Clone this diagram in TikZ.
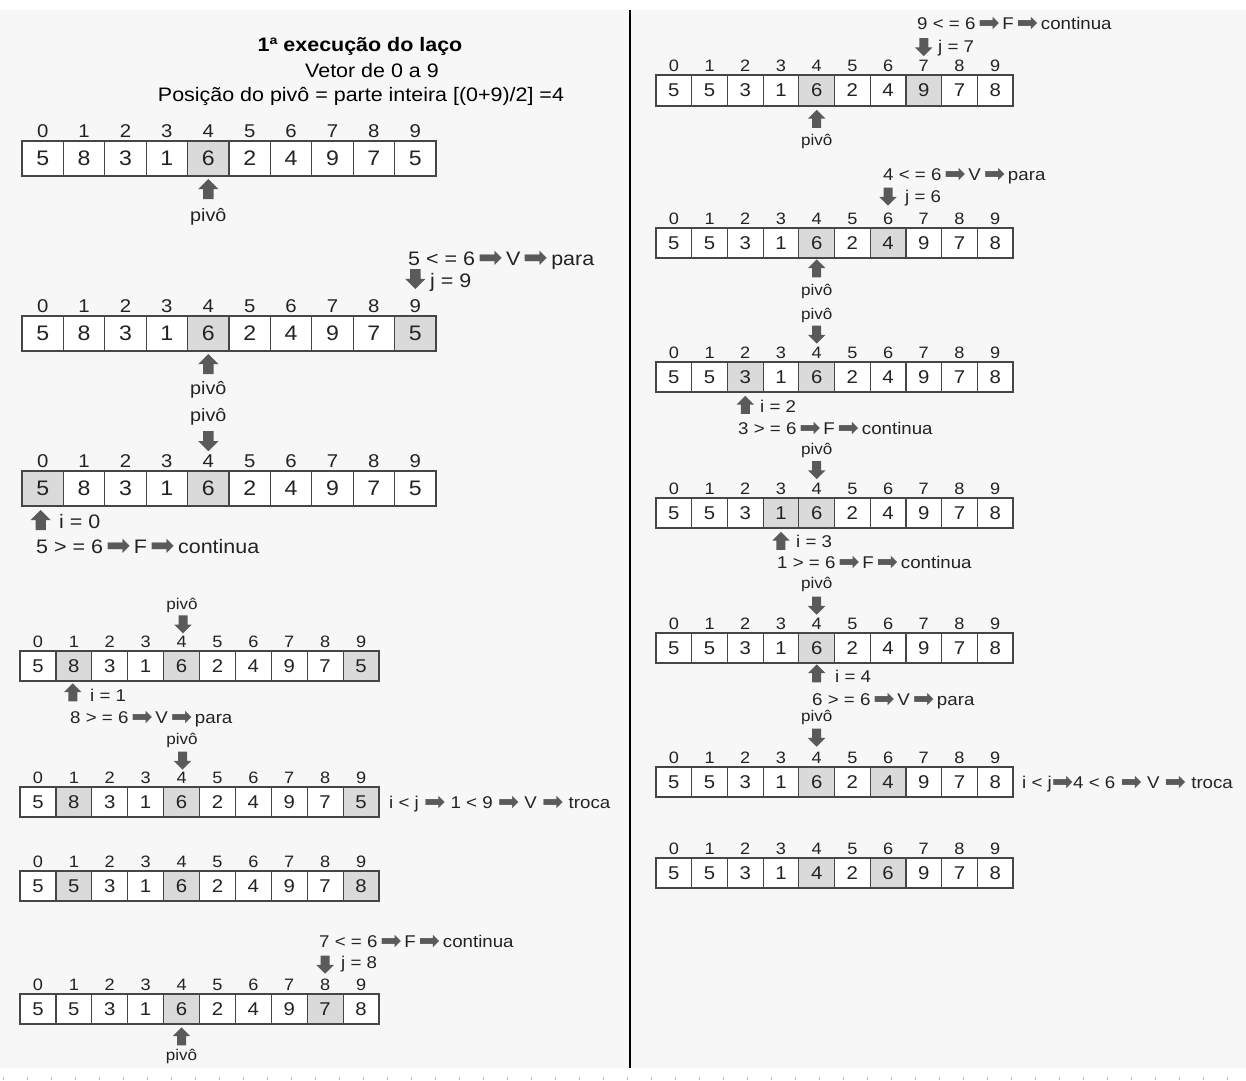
\documentclass[tikz,border=0pt]{standalone}
\usepackage{graphicx}
\usepackage{fontspec}
\setmainfont{Liberation Sans}[FakeStretch=1.1]
\newfontfamily\dejavu{DejaVu Sans}
\usetikzlibrary{calc,shapes.arrows}

\definecolor{fundo}{RGB}{247,247,247}
\definecolor{sombra}{RGB}{218,218,218}
\definecolor{borda}{RGB}{70,70,70}
\definecolor{setacor}{RGB}{90,90,90}
\definecolor{texto}{RGB}{35,35,35}

% seta grossa dentro do texto
\newcommand{\sa}{{\color{setacor}\raisebox{-0.12em}{\scalebox{1.5}{\dejavu ➡}}}}

% vetor: nome, x, y (topo), largura da celula, altura, valores, celulas cinza, g/p
\newcommand{\vetor}[8]{%
  \fill[white] (#2,#3) rectangle ++({10*#4},#5);
  \foreach \s in {#7} \fill[sombra] ({#2+\s*#4},#3) rectangle ++(#4,#5);
  \foreach \v [count=\k from 0] in {#6} {
    \node[cel#8, minimum width=#4pt, minimum height=#5pt] (#1-\k) at ({#2+(\k+0.5)*#4},{#3+#5/2}) {\v};
    \node[idx#8] (#1-i\k) at (#1-\k.north) {\k};
  }%
}

\begin{document}
\begin{tikzpicture}[x=1pt,y=1pt,yscale=-1,
    cel/.style={draw=borda, line width=1.2pt, inner sep=0pt, text=texto},
    celg/.style={cel, font=\fontsize{21}{21}\selectfont},
    celp/.style={cel, font=\fontsize{18.5}{18.5}\selectfont},
    idx/.style={anchor=south, inner sep=0pt, inner ysep=3pt, text=texto},
    idxg/.style={idx, font=\fontsize{18.5}{18.5}\selectfont},
    idxp/.style={idx, font=\fontsize{16.5}{16.5}\selectfont},
    txt/.style={anchor=base west, inner sep=0pt, text=texto},
    txtg/.style={txt, font=\fontsize{19.5}{19.5}\selectfont},
    txtp/.style={txt, font=\fontsize{17}{17}\selectfont},
    piv/.style={anchor=base, inner sep=0pt, text=texto},
    pivg/.style={piv, font=\fontsize{18}{18}\selectfont},
    pivp/.style={piv, font=\fontsize{15.5}{15.5}\selectfont},
    seta/.style={single arrow, fill=setacor, inner xsep=0pt, minimum width=0pt, single arrow head indent=0pt},
    setag/.style={seta, inner ysep=5pt, single arrow head extend=5pt, minimum height=20pt},
    setap/.style={seta, inner ysep=4.3pt, single arrow head extend=4.2pt, minimum height=18pt},
    cima/.style={rotate=90},
    baixo/.style={rotate=-90}]
    \useasboundingbox (0,0) rectangle (1246,1080);
    \fill[white] (0,0) rectangle (1246,1080);
    \fill[fundo] (0,10) rectangle (1246,1068);

    %Divisoria
    \draw[line width=1.6pt] (630,10) -- (630,1068);
    \draw[gray!50, line width=3pt, dash pattern=on 1.2pt off 22.8pt] (3,1078) -- (1246,1078);

    %Titulo
    \node[anchor=base, inner sep=0pt, font=\bfseries\fontsize{19.5}{19.5}\selectfont] (titulo) at (360,51) {1ª execução do laço};
    \node[anchor=base, inner sep=0pt, font=\fontsize{19.5}{19.5}\selectfont] (vetor) at (372,77) {Vetor de 0 a 9};
    \node[anchor=base, inner sep=0pt, font=\fontsize{19.5}{19.5}\selectfont] (posicao) at (361,101) {Posição do pivô = parte inteira [(0+9)/2] =4};

    %Coluna esquerda, vetores grandes
    \vetor{a1}{22}{141}{41.4}{35}{5,8,3,1,6,2,4,9,7,5}{4}{g}
    \node[setag, cima] (a1-up) at ($(a1-4.south)+(0,15)$) {};
    \node[pivg] (a1-piv) at (a1-4 |- 0,221) {pivô};

    \vetor{a2}{22}{316}{41.4}{35}{5,8,3,1,6,2,4,9,7,5}{4,9}{g}
    \node[txtg] (a2-cond) at (408,265) {5 < = 6\,\sa\,V\,\sa\,para};
    \node[setag, baixo] (a2-dn) at ($(a2-9.north)+(0,-39)$) {};
    \node[txtg] (a2-j) at (430,287) {j = 9};
    \node[setag, cima] (a2-up) at ($(a2-4.south)+(0,15)$) {};
    \node[pivg] (a2-piv) at (a2-4 |- 0,394) {pivô};

    \node[pivg] (a3-piv) at (a2-4 |- 0,421) {pivô};
    \node[setag, baixo] (a3-dn) at ($(a2-4.south)+(0,87)$) {};
    \vetor{a3}{22}{471}{41.4}{35}{5,8,3,1,6,2,4,9,7,5}{0,4}{g}
    \node[setag, cima] (a3-up) at ($(a3-0.south)+(-2,16)$) {};
    \node[txtg] (a3-i) at (59,528) {i = 0};
    \node[txtg] (a3-cond) at (36,553) {5 > = 6\,\sa\,F\,\sa\,continua};

    %Coluna esquerda, vetores pequenos
    \node[pivp] (a4-piv) at (182,609) {pivô};
    \node[setap, baixo] (a4-dn) at (183,622) {};
    \vetor{a4}{20}{651}{35.9}{30}{5,8,3,1,6,2,4,9,7,5}{1,4,9}{p}
    \node[setap, cima] (a4-up) at ($(a4-1.south)+(-1,13)$) {};
    \node[txtp] (a4-i) at (90,701) {i = 1};
    \node[txtp] (a4-cond) at (70,723) {8 > = 6\,\sa\,V\,\sa\,para};

    \node[pivp] (a5-piv) at (182,744) {pivô};
    \vetor{a5}{20}{787}{35.9}{30}{5,8,3,1,6,2,4,9,7,5}{1,4,9}{p}
    \node[setap, baixo] (a5-dn) at ($(a5-4.north)+(1,-28)$) {};
    \node[txtp] (a5-troca) at (389,808) {i < j \sa\ 1 < 9 \sa\ V \sa\ troca};

    \vetor{a6}{20}{871}{35.9}{30}{5,5,3,1,6,2,4,9,7,8}{1,4,9}{p}

    \vetor{a7}{20}{994}{35.9}{30}{5,5,3,1,6,2,4,9,7,8}{4,8}{p}
    \node[txtp] (a7-cond) at (319,947) {7 < = 6\,\sa\,F\,\sa\,continua};
    \node[setap, baixo] (a7-dn) at ($(a7-8.north)+(0,-31)$) {};
    \node[txtp] (a7-j) at (341,968) {j = 8};
    \node[setap, cima] (a7-up) at ($(a7-4.south)+(0,14)$) {};
    \node[pivp] (a7-piv) at (a7-4 |- 0,1060) {pivô};

    %Coluna direita
    \vetor{r1}{656}{75}{35.7}{31}{5,5,3,1,6,2,4,9,7,8}{4,7}{p}
    \node[txtp] (r1-cond) at (917,29) {9 < = 6\,\sa\,F\,\sa\,continua};
    \node[setap, baixo] (r1-dn) at ($(r1-7.north)+(0,-29.5)$) {};
    \node[txtp] (r1-j) at (938,52) {j = 7};
    \node[setap, cima] (r1-up) at ($(r1-4.south)+(0,14.5)$) {};
    \node[pivp] (r1-piv) at (r1-4 |- 0,145) {pivô};

    \vetor{r2}{656}{228}{35.7}{30}{5,5,3,1,6,2,4,9,7,8}{4,6}{p}
    \node[txtp] (r2-cond) at (883,180) {4 < = 6\,\sa\,V\,\sa\,para};
    \node[setap, baixo] (r2-dn) at ($(r2-6.north)+(0,-33)$) {};
    \node[txtp] (r2-j) at (905,202) {j = 6};
    \node[setap, cima] (r2-up) at ($(r2-4.south)+(0,12)$) {};
    \node[pivp] (r2-piv) at (r2-4 |- 0,295) {pivô};

    \node[pivp] (r3-piv) at (r2-4 |- 0,319) {pivô};
    \vetor{r3}{656}{362}{35.7}{30}{5,5,3,1,6,2,4,9,7,8}{2,4}{p}
    \node[setap, baixo] (r3-dn) at ($(r3-4.north)+(0,-29)$) {};
    \node[setap, cima] (r3-up) at ($(r3-2.south)+(0,14.5)$) {};
    \node[txtp] (r3-i) at (760,412) {i = 2};
    \node[txtp] (r3-cond) at (738,434) {3 > = 6\,\sa\,F\,\sa\,continua};

    \node[pivp] (r4-piv) at (r3-4 |- 0,454) {pivô};
    \vetor{r4}{656}{498}{35.7}{30}{5,5,3,1,6,2,4,9,7,8}{3,4}{p}
    \node[setap, baixo] (r4-dn) at ($(r4-4.north)+(0,-29.5)$) {};
    \node[setap, cima] (r4-up) at ($(r4-3.south)+(0,14.5)$) {};
    \node[txtp] (r4-i) at (796,547) {i = 3};
    \node[txtp] (r4-cond) at (777,568) {1 > = 6\,\sa\,F\,\sa\,continua};

    \node[pivp] (r5-piv) at (r4-4 |- 0,588) {pivô};
    \vetor{r5}{656}{633}{35.7}{30}{5,5,3,1,6,2,4,9,7,8}{4}{p}
    \node[setap, baixo] (r5-dn) at ($(r5-4.north)+(0,-29)$) {};
    \node[setap, cima] (r5-up) at ($(r5-4.south)+(0,12)$) {};
    \node[txtp] (r5-i) at (835,682) {i = 4};
    \node[txtp] (r5-cond) at (812,705) {6 > = 6\,\sa\,V\,\sa\,para};

    \node[pivp] (r6-piv) at (r5-4 |- 0,721) {pivô};
    \vetor{r6}{656}{767}{35.7}{30}{5,5,3,1,6,2,4,9,7,8}{4,6}{p}
    \node[setap, baixo] (r6-dn) at ($(r6-4.north)+(0,-31)$) {};
    \node[txtp] (r6-troca) at (1022,788) {i < j\sa 4 < 6 \sa\ V \sa\ troca};

    \vetor{r7}{656}{858}{35.7}{30}{5,5,3,1,4,2,6,9,7,8}{4,6}{p}
\end{tikzpicture}
\end{document}
